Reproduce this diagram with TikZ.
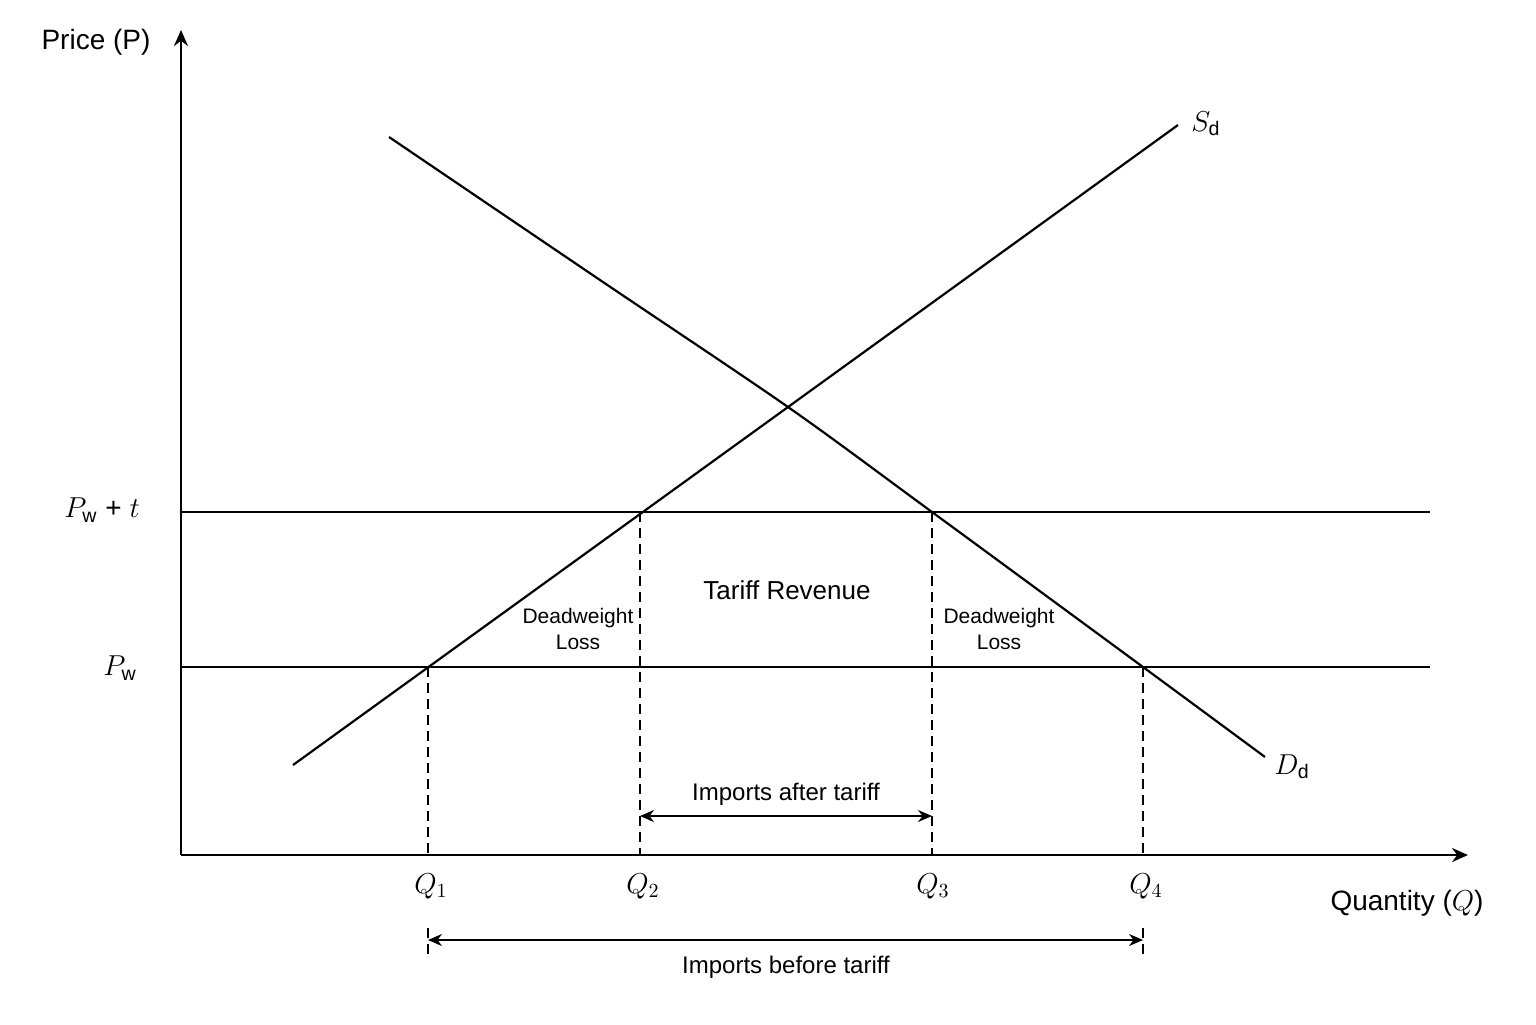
\documentclass[tikz,border=0pt]{standalone}
\usepackage{fontspec}
\setmainfont{Liberation Sans}
\usetikzlibrary{arrows.meta}
\begin{document}
\begin{tikzpicture}[x=0.5pt,y=-0.5pt,
  ln/.style={line width=1.1pt},
  dsh/.style={line width=0.9pt,dash pattern=on 5pt off 3pt},
  ax/.style={line width=1.3pt,-{Stealth[length=8pt,width=7pt]}},
  dim/.style={line width=1pt,{Stealth[length=7pt,width=6pt]}-{Stealth[length=7pt,width=6pt]}},
  lab/.style={font=\fontsize{14}{16}\selectfont},
  sm/.style={font=\fontsize{10.5}{13}\selectfont,align=center}]
\useasboundingbox (0,0) rectangle (1536,1024);
\coordinate (O) at (181,855);
\coordinate (Ytop) at (181,30);
\coordinate (Xend) at (1468,855);
\draw[ax] (O) -- (Ytop);
\draw[ax] (O) -- (Xend);
% price lines
\coordinate (PtL) at (181,512); \coordinate (PtR) at (1430,512);
\coordinate (PwL) at (181,667); \coordinate (PwR) at (1430,667);
\draw[ln] (PtL) -- (PtR);
\draw[ln] (PwL) -- (PwR);
% supply and demand
\coordinate (S0) at (293,765); \coordinate (S1) at (1178,125);
\draw[ln] (S0) -- (S1);
\draw[ln] plot[smooth,tension=0.5] coordinates {(389,137) (600,280) (788,407) (932,512) (1143,667) (1265,757)};
% points
\coordinate (A1) at (428,667); \coordinate (B1) at (428,855);
\coordinate (A2) at (640,512); \coordinate (B2) at (640,855);
\coordinate (A3) at (932,512); \coordinate (B3) at (932,855);
\coordinate (A4) at (1143,667); \coordinate (B4) at (1143,855);
\draw[dsh] (A1) -- (B1); \draw[dsh] (A2) -- (B2);
\draw[dsh] (A3) -- (B3); \draw[dsh] (A4) -- (B4);
\coordinate (C1) at (428,928); \coordinate (D1) at (428,955);
\coordinate (C4) at (1143,928); \coordinate (D4) at (1143,955);
\draw[dsh] (C1) -- (D1); \draw[dsh] (C4) -- (D4);
\coordinate (E2) at (640,816); \coordinate (E3) at (932,816);
\draw[dim] (E2) -- (E3);
\coordinate (F1) at (428,940); \coordinate (F4) at (1143,940);
\draw[dim] (F1) -- (F4);
% labels
\node[lab] (tP) at (96,42) {Price (P)};
\node[lab] (tQ) at (1407,903) {Quantity ($Q$)};
\node[lab] (tPt) at (102,510) {$P_{\mathrm{w}}$ + $t$};
\node[lab] (tPw) at (120,668) {$P_{\mathrm{w}}$};
\node[lab] (tS) at (1206,124) {$S_{\mathrm{d}}$};
\node[lab] (tD) at (1292,767) {$D_{\mathrm{d}}$};
\node[lab] (q1) at (431,886) {$Q_1$};
\node[lab] (q2) at (643,886) {$Q_2$};
\node[lab] (q3) at (933,886) {$Q_3$};
\node[lab] (q4) at (1146,886) {$Q_4$};
\node[font=\fontsize{13}{15}\selectfont] (tr) at (787,590) {Tariff Revenue};
\node[sm] (dw1) at (578,629) {Deadweight\\Loss};
\node[sm] (dw2) at (999,629) {Deadweight\\Loss};
\node[font=\fontsize{12}{14}\selectfont] (ia) at (786,794) {Imports after tariff};
\node[font=\fontsize{12}{14}\selectfont] (ib) at (786,967) {Imports before tariff};
\end{tikzpicture}
\end{document}
